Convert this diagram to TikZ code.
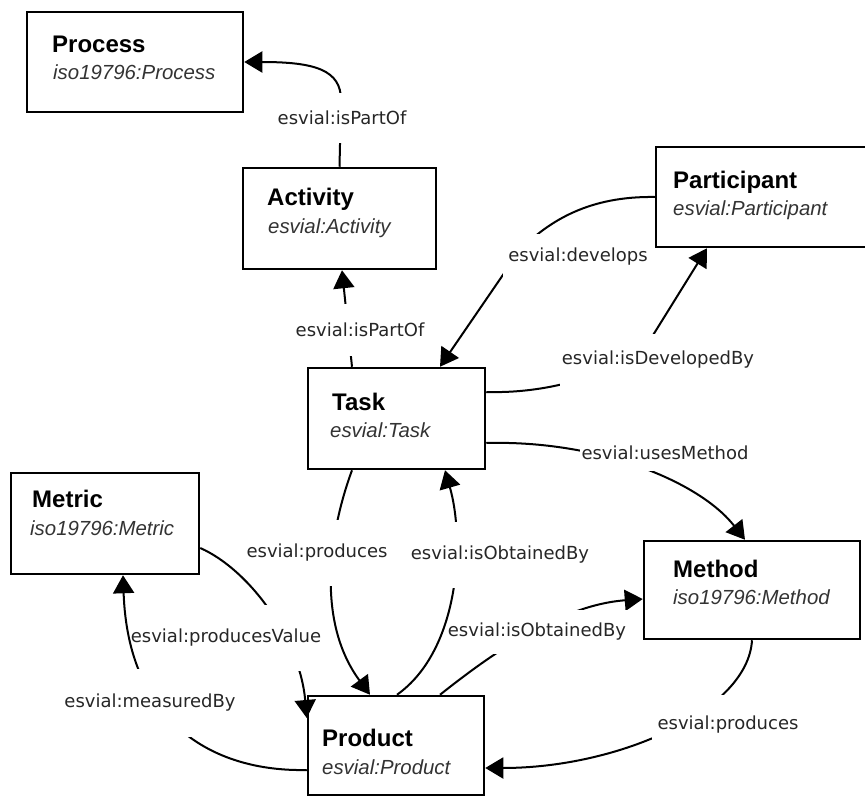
\documentclass[tikz,border=0pt]{standalone}
\usepackage{fontspec}
\setmainfont{Liberation Sans}
\newfontfamily\lblfont{DejaVu Sans}
\usetikzlibrary{arrows.meta}
\begin{document}
\begin{tikzpicture}[x=1pt,y=-1pt,
  box/.style={draw=black, line width=2.5pt, fill=white, inner sep=0pt},
  ttl/.style={anchor=base west, inner sep=0pt, font=\fontsize{24}{28}\selectfont\bfseries},
  sub/.style={anchor=base west, inner sep=0pt, text=black!80, font=\fontsize{20.4}{24}\selectfont\itshape},
  lbl/.style={fill=white, inner xsep=2pt, inner ysep=0pt, text=black!85, font=\lblfont\fontsize{18}{20}\selectfont},
  conn/.style={line width=2pt},
  arr/.style={conn, -{Triangle[length=18pt,width=21pt]}},
]
\useasboundingbox (0,0) rectangle (865,797);

% boxes
\node[box, minimum width=216pt, minimum height=100pt] (proc) at (135,62) {};
\node[box, minimum width=193pt, minimum height=101pt] (act) at (339.5,218.5) {};
\node[box, minimum width=212pt, minimum height=100pt] (part) at (762,197) {};
\node[box, minimum width=177pt, minimum height=101pt] (task) at (396.5,418.5) {};
\node[box, minimum width=188pt, minimum height=101pt] (metric) at (105,523.5) {};
\node[box, minimum width=216pt, minimum height=98pt] (method) at (752,590) {};
\node[box, minimum width=176pt, minimum height=99pt] (product) at (396,745.5) {};

% box texts
\node[ttl] (procT) at (52,53) {Process};
\node[sub] (procS) at (53,80) {iso19796:Process};
\node[ttl] (actT) at (267,205) {Activity};
\node[sub] (actS) at (268,233) {esvial:Activity};
\node[ttl] (partT) at (673,188) {Participant};
\node[sub] (partS) at (673,215) {esvial:Participant};
\node[ttl] (taskT) at (332,410) {Task};
\node[sub] (taskS) at (330,437) {esvial:Task};
\node[ttl] (metricT) at (32,507) {Metric};
\node[sub] (metricS) at (30,535) {iso19796:Metric};
\node[ttl] (methodT) at (673,577) {Method};
\node[sub] (methodS) at (673,604) {iso19796:Method};
\node[ttl] (productT) at (322,746) {Product};
\node[sub] (productS) at (322,774) {esvial:Product};

% Activity -> Process
\draw[arr] (act.north) -- (341,100) .. controls (341,70) and (315,62) .. (proc.east);
\node[lbl, minimum height=50pt] (l1) at (342,118) {esvial:isPartOf};

% Task -> Activity
\draw[arr] ([xshift=-44.5pt]task.north) -- ([xshift=2.5pt]act.south);
\node[lbl, minimum height=52pt] (l2) at (360,330) {esvial:isPartOf};

% Participant -> Task
\draw[arr] (part.west) .. controls (590,196) and (550,220) .. (520,250) -- ([xshift=43.5pt]task.north);
\node[lbl, minimum height=46pt, minimum width=150pt] (l3) at (578,257) {esvial:develops};

% Task -> Participant
\draw[arr] ([yshift=26.5pt]task.east) .. controls (560,394) and (625,368) .. (650,340) -- ([xshift=-55pt]part.south);
\node[lbl, minimum height=52pt] (l4) at (658,360) {esvial:isDevelopedBy};

% Task -> Method
\draw[arr] ([yshift=-24.5pt]task.east) .. controls (600,440) and (700,482) .. ([xshift=-7pt]method.north);
\node[lbl, minimum height=36pt] (l5) at (665,453) {esvial:usesMethod};

% Task -> Product
\draw[arr] ([xshift=-44.5pt]task.south) .. controls (330,530) and (315,620) .. ([xshift=-26pt]product.north);
\node[lbl, minimum height=66pt] (l6) at (317,553) {esvial:produces};

% Product -> Method
\draw[arr] ([xshift=44pt]product.north) .. controls (490,655) and (560,605) .. ([yshift=-9pt]method.west);
\node[lbl, minimum height=44pt] (l8) at (537,632) {esvial:isObtainedBy};

% Product -> Task
\draw[arr] ([xshift=1pt]product.north) .. controls (460,650) and (465,540) .. ([xshift=48.5pt]task.south);
\node[lbl, minimum height=66pt] (l7) at (500,555) {esvial:isObtainedBy};

% Method -> Product
\draw[arr] (method.south) .. controls (748,710) and (620,768) .. ([yshift=-22.5pt]product.east);
\node[lbl, minimum height=60pt, inner xsep=6pt] (l9) at (728,725) {esvial:produces};

% Metric -> Product
\draw[arr] ([yshift=-24.5pt]metric.east) .. controls (250,570) and (300,640) .. ([yshift=27.5pt]product.west);
\node[lbl, minimum height=66pt] (l10) at (226,638) {esvial:producesValue};

% Product -> Metric
\draw[arr] ([yshift=-24.5pt]product.west) .. controls (210,772) and (128,720) .. ([xshift=18pt]metric.south);
\node[lbl, minimum height=68pt] (l11) at (150,703) {esvial:measuredBy};
\end{tikzpicture}
\end{document}
